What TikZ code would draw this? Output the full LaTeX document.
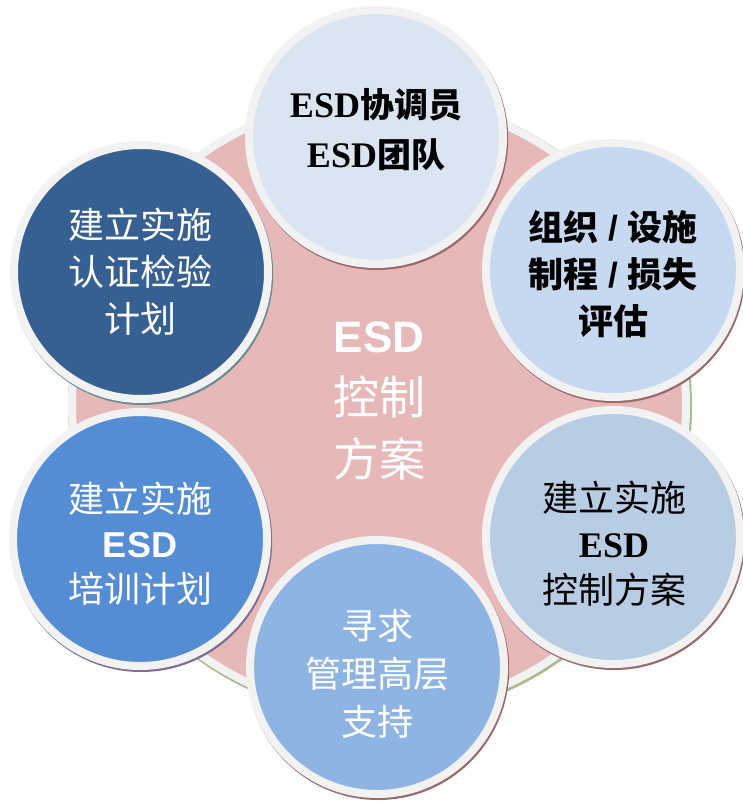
\documentclass[tikz,border=0pt]{standalone}
\usepackage{fontspec}
\setmainfont{Liberation Serif}
\setsansfont{Liberation Sans}
\newfontfamily\cjk{Noto Sans CJK SC}
\usetikzlibrary{calc}
\definecolor{pinkfill}{HTML}{E6B8B7}
\definecolor{ringgray}{HTML}{F2F2F2}
\definecolor{edgegreen}{HTML}{A9BC8C}
\definecolor{edgered}{HTML}{9A6A6A}
\definecolor{edgeteal}{HTML}{6A8C92}
\definecolor{edgepurple}{HTML}{7E6E90}
\definecolor{cTop}{HTML}{DBE5F1}
\definecolor{cUR}{HTML}{C6D9F1}
\definecolor{cLR}{HTML}{B8CCE4}
\definecolor{cBot}{HTML}{8DB4E2}
\definecolor{cLL}{HTML}{548DD4}
\definecolor{cUL}{HTML}{366092}
\newcommand{\ESDser}{{\rmfamily\bfseries ESD}}
\newcommand{\ESDsan}{{\sffamily\bfseries ESD}}
\begin{document}
\begin{tikzpicture}[x=1pt,y=-1pt,
  ringc/.style={circle, draw=ringgray, line width=8pt, minimum size=254pt, inner sep=0pt},
  shadowc/.style={circle, minimum size=262pt, inner sep=0pt},
  lbl/.style={align=center, inner sep=0pt}]
\useasboundingbox (0,0) rectangle (743,802);
% central circle
\node[circle, fill=edgegreen, minimum size=624pt, inner sep=0pt] (bigsh) at (380,406.5) {};
\node[circle, fill=pinkfill, draw=ringgray, line width=8pt, minimum size=614pt, inner sep=0pt] (big) at (379,405) {};
% satellite circles: shadows
\node[shadowc, fill=edgered] (s1) at (377.2,139) {};
\node[shadowc, fill=edgered] (s2) at (614.2,272) {};
\node[shadowc, fill=edgered] (s3) at (614.2,539) {};
\node[shadowc, fill=edgered] (s4) at (378.2,669) {};
\node[shadowc, fill=edgepurple] (s5) at (141.2,541) {};
\node[shadowc, fill=edgeteal] (s6) at (142.2,274) {};
% satellite circles
\node[ringc, fill=cTop] (c1) at (376,137) {};
\node[ringc, fill=cUR] (c2) at (613,270) {};
\node[ringc, fill=cLR] (c3) at (613,537) {};
\node[ringc, fill=cBot] (c4) at (377,667) {};
\node[ringc, fill=cLL] (c5) at (140,539) {};
\node[ringc, fill=cUL] (c6) at (141,272) {};
% texts
\node[lbl, text=white, font=\fontsize{46}{62}\selectfont] (tc) at (379,401)
  {\fontsize{44}{56}\selectfont\ESDsan\\\fontsize{46}{62}\selectfont\cjk 控制\\\cjk 方案};
\node[lbl, font=\fontsize{34}{50}\selectfont] (t1) at (376,130)
  {{\fontsize{36}{50}\selectfont\ESDser}{\cjk\bfseries 协调员}\\{\fontsize{36}{50}\selectfont\ESDser}{\cjk\bfseries 团队}};
\node[lbl, font=\fontsize{35}{47}\selectfont] (t2) at (613,274)
  {{\cjk\bfseries 组织}{\sffamily\bfseries{} / }{\cjk\bfseries 设施}\\{\cjk\bfseries 制程}{\sffamily\bfseries{} / }{\cjk\bfseries 损失}\\{\cjk\bfseries 评估}};
\node[lbl, font=\fontsize{36}{46}\selectfont] (t3) at (614,544)
  {{\cjk 建立实施}\\\ESDser\\{\cjk 控制方案}};
\node[lbl, text=white, font=\fontsize{36}{48}\selectfont] (t4) at (377,674)
  {{\cjk 寻求}\\{\cjk 管理高层}\\{\cjk 支持}};
\node[lbl, text=white, font=\fontsize{36}{45}\selectfont] (t5) at (140,544)
  {{\cjk 建立实施}\\\ESDsan\\{\cjk 培训计划}};
\node[lbl, text=white, font=\fontsize{36}{47}\selectfont] (t6) at (140,272)
  {{\cjk 建立实施}\\{\cjk 认证检验}\\{\cjk 计划}};
\end{tikzpicture}
\end{document}
